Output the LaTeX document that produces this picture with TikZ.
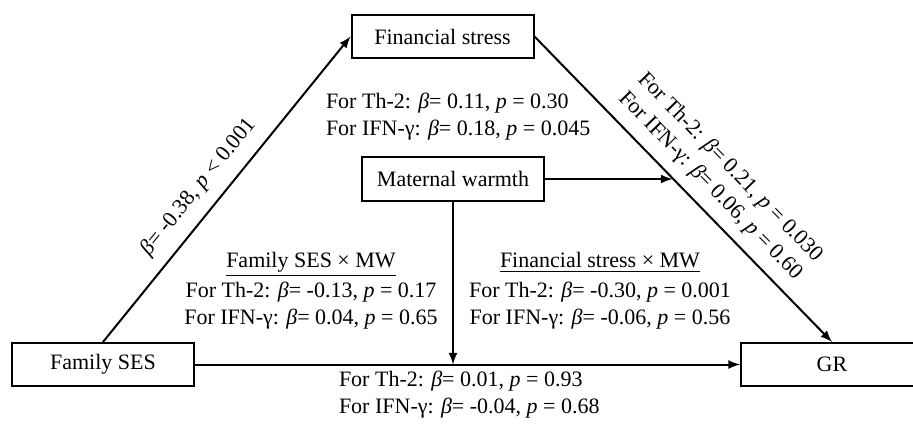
\documentclass[tikz,border=0pt]{standalone}
\usepackage{fontspec}
\setmainfont{Liberation Serif}
\usetikzlibrary{calc}
\newcommand{\bet}{\textit{β}}
\newcommand{\pv}{\textit{p}}

\begin{document}
\begin{tikzpicture}[x=0.5pt,y=-0.5pt, line width=1pt, font=\fontsize{11}{13.5}\selectfont,
		var/.style={draw, minimum width=91pt, minimum height=21.5pt, inner sep=0pt},
		lbl/.style={inner sep=0pt, align=left},
		path/.style={-latex}]
		\useasboundingbox (0,0) rectangle (913,427);
		
		\node[var] (fs) at (442.5,36.5) {Financial stress};
		\node[var] (mw) at (453,179) {Maternal warmth};
		\node[var] (ses) at (103,364.5) {Family SES};
		\node[var] (gr) at (832,364.5) {GR};
		
		\draw[path] (ses.north) -- node[pos=0.46, sloped, yshift=11.5pt, lbl]{\bet= -0.38, \pv{} < 0.001} (fs.west);
		\draw[path] (fs.east) -- node[pos=0.54, sloped, yshift=17.5pt, lbl]{For Th-2: \bet= 0.21, \pv{} = 0.030\\For IFN-γ: \bet= 0.06, \pv{} = 0.60} coordinate[pos=0.464] (fsgr) (gr.north);
		\draw[path] (mw.east) -- (mw.east -| fsgr);
		\draw[path] (ses.east) -- (gr.west);
		\draw[path] (mw.south) -- (mw.south |- ses.east);
		
		\node[lbl, anchor=west] (fsgrlbl) at (325,116.5) {For Th-2: \bet= 0.11, \pv{} = 0.30\\For IFN-γ: \bet= 0.18, \pv{} = 0.045};
		\node[lbl, align=center] (sesmw) at (311,291) {\underline{Family SES × MW}\\[1.5pt]For Th-2: \bet= -0.13, \pv{} = 0.17\\For IFN-γ: \bet= 0.04, \pv{} = 0.65};
		\node[lbl, align=center] (fsmw) at (600,291) {\underline{Financial stress × MW}\\[1.5pt]For Th-2: \bet= -0.30, \pv{} = 0.001\\For IFN-γ: \bet= -0.06, \pv{} = 0.56};
		\node[lbl, anchor=west] (sesgr) at (338,394.5) {For Th-2: \bet= 0.01, \pv{} = 0.93\\For IFN-γ: \bet= -0.04, \pv{} = 0.68};
	\end{tikzpicture}
\end{document}
